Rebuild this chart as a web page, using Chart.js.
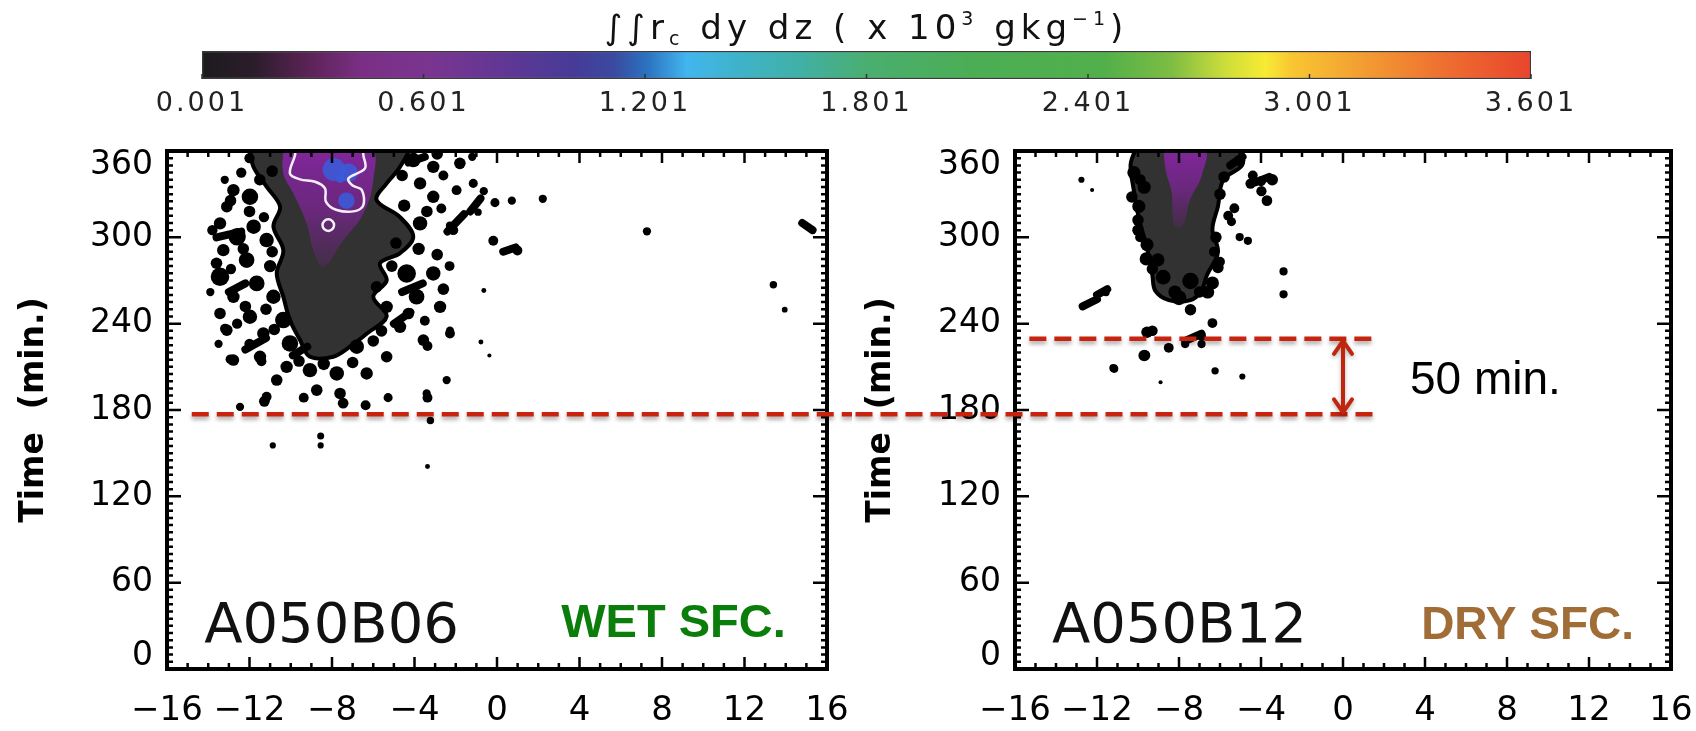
<!DOCTYPE html>
<html lang="en">
<head>
<meta charset="UTF-8">
<title>Cloud water time–distance plots, wet vs dry surface</title>
<script src="https://cdn.jsdelivr.net/npm/chart.js"></script>
<style>
  html, body { margin: 0; padding: 0; background: #fff; }
  body { width: 1696px; height: 731px; position: relative; overflow: hidden; }
  .box { position: absolute; }
  #barBox { left: 140px; top: 0; width: 1440px; height: 128px; }
  #wetBox { left: 0; top: 130px; width: 852px; height: 601px; }
  #dryBox { left: 852px; top: 130px; width: 844px; height: 601px; }
</style>
</head>
<body>
<div class="box" id="barBox"><canvas id="colorBar"></canvas></div>
<div class="box" id="wetBox"><canvas id="wetChart"></canvas></div>
<div class="box" id="dryBox"><canvas id="dryChart"></canvas></div>

<script>
// axes
const xTicks = [-16, -12, -8, -4, 0, 4, 8, 12, 16];
const timeTicks = [0, 60, 120, 180, 240, 300, 360];
const barTicks = [0.001, 0.601, 1.201, 1.801, 2.401, 3.001, 3.601];

// outlines are [x (km), time (min)]; blobs are [x, time, radius km]; streaks are [x1, t1, x2, t2]
const wetPlume = [[-11.98, 362], [-4.38, 362], [-4.7, 349], [-5.35, 337.5], [-5.84, 326], [-4.7, 314], [-4.06, 300.4],
  [-4.7, 289], [-5.67, 282], [-5.35, 270], [-6.0, 258.7], [-5.35, 245], [-6.32, 233], [-7.13, 224], [-7.94, 217],
  [-9.07, 217], [-9.55, 228.6], [-10.04, 242.5], [-10.36, 258.7], [-10.68, 275], [-10.36, 291], [-10.84, 307.4],
  [-10.52, 321.3], [-11.17, 335.2], [-11.81, 349], [-11.98, 362]];
const wetPurple = [[-10.36, 362], [-6.16, 362], [-6.0, 339.8], [-6.48, 316.6], [-7.45, 298], [-8.42, 279.6],
  [-8.9, 291], [-9.23, 309.7], [-9.87, 330.5], [-10.36, 344.4], [-10.36, 362]];
const wetContour = [[-9.79, 361], [-9.79, 357.2], [-10.04, 344.4], [-9.55, 340.3], [-8.82, 338.6], [-8.34, 334],
  [-8.29, 324.7], [-7.77, 319], [-6.89, 318.2], [-6.48, 322.4], [-6.56, 333], [-7.0, 336], [-7.2, 341],
  [-6.4, 347.9], [-6.48, 357.2], [-6.48, 361]];
const wetRings = [[-8.18, 308.5, 0.28]];
const wetBlue = [[-7.9, 347, 0.55], [-7.2, 345, 0.45], [-7.3, 325.5, 0.4], [-7.6, 341, 0.22]];
const wetBlobs = [
  [-12.78, 332.8, 0.3], [-11.98, 328.2, 0.4], [-13.1, 321.3, 0.28], [-12.92, 325.5, 0.28], [-13.43, 309.7, 0.3],
  [-11.8, 307.4, 0.35], [-12.6, 300.4, 0.42], [-11.17, 298.1, 0.35], [-13.27, 291.1, 0.3], [-12.14, 284.2, 0.38],
  [-13.43, 272.6, 0.45], [-11.65, 268, 0.38], [-12.78, 258.7, 0.3], [-10.84, 258.7, 0.35], [-13.43, 247.1, 0.28],
  [-11.98, 244.8, 0.35], [-10.36, 242.5, 0.4], [-13.1, 235.5, 0.28], [-11.33, 233.2, 0.3], [-12.78, 214.7, 0.28],
  [-11.49, 217, 0.3], [-10.04, 226.3, 0.4], [-10.2, 210, 0.3], [-9.07, 207.7, 0.35], [-7.77, 205.4, 0.35],
  [-8.74, 193.8, 0.28], [-7.61, 191.5, 0.28], [-6.32, 205.4, 0.3], [-5.35, 217, 0.28], [-6.8, 224, 0.35],
  [-10.68, 200.8, 0.28], [-11.17, 189.2, 0.24], [-12.46, 182.2, 0.2], [-13.19, 236.5, 0.24], [-12.92, 215.2, 0.24],
  [-11.42, 213.9, 0.24], [-11.28, 186, 0.26], [-9.37, 188.6, 0.24], [-7.46, 184.7, 0.26], [-6.37, 183.3, 0.24],
  [-5.28, 188.6, 0.22], [-3.37, 188.6, 0.24], [-3.23, 172.7, 0.18], [-3.37, 140.8, 0.12], [-8.55, 162, 0.17],
  [-8.55, 155.4, 0.15], [-10.87, 155.4, 0.15],
  [-13.8, 305, 0.25], [-12.0, 318, 0.28], [-11.3, 314, 0.25], [-13.6, 282, 0.28], [-12.9, 278, 0.25],
  [-11.0, 280, 0.3], [-12.3, 292, 0.28], [-10.9, 290, 0.28], [-13.9, 262, 0.2], [-12.2, 252, 0.28],
  [-11.2, 250, 0.28], [-12.6, 240, 0.25], [-10.8, 236, 0.28], [-12.0, 226, 0.25], [-13.5, 226, 0.2],
  [-9.6, 214, 0.28], [-8.4, 212, 0.3], [-7.0, 213, 0.28], [-6.0, 228, 0.28], [-5.6, 235, 0.28],
  [-10.9, 346, 0.28], [-11.5, 340, 0.28], [-12.4, 345, 0.25], [-13.2, 340, 0.2], [-12.0, 355, 0.25],
  [-4.06, 353.7, 0.35], [-3.09, 349, 0.3], [-1.8, 351.4, 0.28], [-1.96, 332.8, 0.24], [-1.15, 337.5, 0.22],
  [-3.73, 337.5, 0.3], [-3.09, 328.2, 0.3], [-2.12, 305, 0.24], [-3.73, 309.7, 0.35], [-4.38, 274.9, 0.45],
  [-3.09, 274.9, 0.35], [-3.9, 258.7, 0.38], [-2.76, 251.7, 0.3], [-5.35, 251.7, 0.3], [-4.7, 237.8, 0.3],
  [-5.84, 265.6, 0.28], [-2.28, 233.2, 0.24], [-3.57, 228.6, 0.28], [-3.41, 191.5, 0.2], [-2.44, 200.8, 0.2],
  [-4.6, 343, 0.28], [-2.6, 343, 0.24], [-4.5, 322, 0.3], [-3.4, 318, 0.28], [-2.7, 320, 0.24],
  [-4.9, 296, 0.28], [-3.8, 292, 0.3], [-2.9, 288, 0.28], [-2.6, 264, 0.28], [-4.3, 247, 0.28],
  [-3.5, 242, 0.24], [-2.3, 280, 0.24], [-5.1, 280, 0.28], [-2.9, 358, 0.28], [-1.2, 356, 0.2],
  [-0.64, 332.1, 0.2], [-0.1, 324.1, 0.22], [0.72, 325.5, 0.2], [2.22, 326.8, 0.2], [-0.92, 317.5, 0.18],
  [-2.28, 308.2, 0.2], [-0.18, 297.6, 0.24], [0.99, 290.9, 0.24], [7.27, 304.2, 0.2], [13.4, 267, 0.18],
  [13.95, 249.7, 0.14], [-0.64, 263, 0.12], [-0.78, 227.2, 0.12], [-0.37, 217.9, 0.1], [-2.28, 235.1, 0.2],
  [-3.37, 224.5, 0.24]];
const wetStreaks = [[-2.4, 304, -1.6, 316], [-1.3, 318, -0.8, 327], [0.3, 290, 0.9, 293], [14.8, 310, 15.3, 305],
  [-4.3, 352, -3.5, 356], [-13.6, 300, -12.4, 304], [-13.0, 262, -12.2, 268], [-12.2, 222, -11.2, 230],
  [-9.9, 218, -9.2, 224], [-5.0, 240, -4.2, 248], [-4.6, 262, -3.6, 268]];

const dryPlume = [[-10.1, 362], [-5.3, 362], [-4.9, 350.7], [-5.84, 340], [-6.1, 321.5], [-6.37, 305.5], [-6.1, 289.6],
  [-6.64, 273.7], [-6.9, 263], [-7.44, 256.4], [-8.5, 256.4], [-9.16, 263], [-9.3, 273.7], [-9.56, 292.3],
  [-9.96, 313.5], [-10.23, 334.8], [-10.36, 350.7], [-10.1, 362]];
const dryPurple = [[-8.77, 362], [-6.77, 362], [-6.9, 342.7], [-7.44, 326.8], [-7.84, 308.2], [-8.23, 308.2],
  [-8.37, 332.1], [-8.63, 345.4], [-8.77, 362]];
const dryBlobs = [
  [-9.7, 334.8, 0.32], [-9.96, 321.5, 0.32], [-9.56, 294.9, 0.32], [-9.03, 284.3, 0.32], [-8.77, 272.3, 0.36],
  [-7.44, 269.7, 0.4], [-6.37, 268.3, 0.32], [-5.04, 353.4, 0.28], [-4.51, 337.4, 0.25], [-3.45, 340, 0.28],
  [-3.98, 332.1, 0.25], [-3.71, 325.5, 0.26], [-5.3, 320.2, 0.24], [-5.44, 310.9, 0.22], [-5.04, 300.2, 0.2],
  [-4.64, 297.6, 0.2], [-6.1, 279, 0.28], [-2.9, 276.3, 0.2], [-2.9, 260.4, 0.2], [-7.44, 249.7, 0.28],
  [-6.37, 240.4, 0.24], [-6.9, 231.1, 0.22], [-9.3, 235.1, 0.26], [-8.5, 223.2, 0.24], [-9.7, 217.9, 0.28],
  [-11.16, 208.6, 0.2], [-8.9, 199.3, 0.1], [-6.24, 207.2, 0.18], [-4.91, 203.3, 0.15], [-7.7, 225.8, 0.2],
  [-6.9, 225.8, 0.2], [-12.76, 340, 0.15], [-12.24, 332.9, 0.1], [-11.56, 261.7, 0.18], [-9.56, 234, 0.28],
  [-9.66, 218, 0.26], [-11.2, 209.2, 0.2],
  [-10.2, 345, 0.32], [-10.3, 328, 0.28], [-10.0, 305, 0.28], [-9.6, 285, 0.32], [-6.0, 330, 0.28],
  [-6.2, 300, 0.28], [-6.6, 262, 0.32], [-8.0, 258, 0.36],
  [-9.9, 340, 0.28], [-10.0, 312, 0.28], [-9.9, 300, 0.24], [-9.3, 278, 0.28], [-8.2, 262, 0.32],
  [-7.0, 262, 0.28], [-6.3, 290, 0.24], [-5.8, 342, 0.28], [-5.6, 315, 0.24], [-6.0, 283, 0.24],
  [-4.4, 343, 0.24], [-4.0, 339, 0.24]];
const dryStreaks = [[-12.7, 252, -12.0, 257], [-12.0, 260, -11.5, 264], [-4.3, 338, -3.6, 342],
  [-5.5, 350, -4.9, 356], [-7.7, 228, -6.9, 233]];

// rain onset lines (min) and the delay between them
const wetOnset = 177;
const dryOnset = 229.5;
const delayLabel = '50 min.';

const SANS = "'DejaVu Sans', sans-serif";
const ARIAL = "'Liberation Sans', Arial, sans-serif";
const RED = '#c8230f';

const gradStops = [[0, '#1c1b1d'], [0.04, '#2c1d2c'], [0.08, '#5b2356'], [0.12, '#7a2f84'], [0.17, '#7a3590'],
  [0.23, '#603795'], [0.28, '#463b97'], [0.31, '#3a4aa0'], [0.335, '#2c72c0'], [0.365, '#42b6ee'],
  [0.40, '#3fb3cc'], [0.45, '#41b0a6'], [0.50, '#4aae70'], [0.58, '#4bae55'], [0.68, '#52b04a'],
  [0.73, '#7ebd43'], [0.77, '#cddd3a'], [0.80, '#f7eb33'], [0.82, '#f9c632'], [0.88, '#f29832'],
  [0.94, '#ee6b30'], [1, '#e8452d']];

const pts = arr => arr.map(([x, y]) => ({x, y}));
const blobPts = arr => arr.map(([x, y, w]) => ({x, y, w}));
const streakPts = arr => arr.flatMap(([x1, y1, x2, y2]) => [{x: x1, y: y1}, {x: x2, y: y2}, {x: x2, y: null}]);
const kmToPx = (chart, w) => Math.abs(chart.scales.x.getPixelForValue(w) - chart.scales.x.getPixelForValue(0));
const blobRadius = c => {
  if (!c.raw || !c.raw.w) return 0;
  const r = kmToPx(c.chart, c.raw.w);
  return Number.isFinite(r) ? r : 0;
};
const minus = v => String(v).replace('-', '\u2212');

// purple core: strong near the top, fading towards its lowest point
const purpleFill = outline => c => {
  const ys = c.chart.scales.y;
  const top = ys ? ys.getPixelForValue(ys.max) : NaN;
  const low = ys ? ys.getPixelForValue(Math.min(...outline.map(d => d[1]))) : NaN;
  if (!Number.isFinite(top) || !Number.isFinite(low) || top === low) return 'rgba(126,36,150,0.8)';
  const g = c.chart.ctx.createLinearGradient(0, top, 0, low);
  g.addColorStop(0, 'rgba(132,38,160,0.95)');
  g.addColorStop(0.5, 'rgba(126,36,150,0.75)');
  g.addColorStop(1, 'rgba(120,34,140,0.25)');
  return g;
};

// frame with inward ticks on all four sides plus the time labels,
// drawn just before the overlay datasets
const boxFrame = {
  id: 'boxFrame',
  beforeDatasetsDraw(chart) { chart.$framed = false; },
  beforeDatasetDraw(chart, args) {
    if (!chart.data.datasets[args.index].overlay || chart.$framed) return;
    chart.$framed = true;
    const {ctx, chartArea: a, scales: {x, y}} = chart;
    ctx.save();
    ctx.strokeStyle = '#000';
    ctx.lineWidth = 2.5;
    ctx.beginPath();
    for (let v = x.min; v <= x.max; v += 1) {
      const px = x.getPixelForValue(v);
      const len = xTicks.includes(v) ? 12 : 6;
      ctx.moveTo(px, a.bottom); ctx.lineTo(px, a.bottom - len);
      ctx.moveTo(px, a.top); ctx.lineTo(px, a.top + len);
    }
    for (let v = y.min; v <= y.max; v += 5) {
      const py = y.getPixelForValue(v);
      const len = timeTicks.includes(v) ? 14 : 6;
      ctx.moveTo(a.left, py); ctx.lineTo(a.left + len, py);
      ctx.moveTo(a.right, py); ctx.lineTo(a.right - len, py);
    }
    ctx.stroke();
    ctx.lineWidth = 4;
    ctx.strokeRect(a.left, a.top, a.right - a.left, a.bottom - a.top);

    // time labels; the end ones are pulled inside the axis range
    ctx.font = 'normal 33px ' + SANS;
    ctx.fillStyle = '#000';
    ctx.textAlign = 'right';
    ctx.textBaseline = 'middle';
    timeTicks.forEach(v => {
      let py = y.getPixelForValue(v);
      if (v === y.max) py += 14;
      if (v === y.min) py -= 13;
      ctx.fillText(String(v), a.left - 14, py);
    });
    ctx.restore();
  }
};

// soft drop shadow under the dashed onset lines
const dropShadow = {
  id: 'dropShadow',
  beforeDatasetDraw(chart, args) {
    if (!chart.data.datasets[args.index].shadow) return;
    const ctx = chart.ctx;
    ctx.save();
    ctx.shadowColor = 'rgba(0,0,0,0.35)';
    ctx.shadowBlur = 4;
    ctx.shadowOffsetY = 3;
  },
  afterDatasetDraw(chart, args) {
    if (chart.data.datasets[args.index].shadow) chart.ctx.restore();
  }
};

// text placed in data coordinates
const panelText = {
  id: 'panelText',
  afterDraw(chart, args, opts) {
    const {ctx, scales: {x, y}} = chart;
    (opts.items || []).forEach(it => {
      ctx.save();
      ctx.font = it.font;
      ctx.fillStyle = it.color;
      ctx.textAlign = it.align || 'left';
      ctx.textBaseline = 'alphabetic';
      ctx.fillText(it.text, x.getPixelForValue(it.x), y.getPixelForValue(it.t));
      ctx.restore();
    });
  }
};

// double-headed arrow between two times
const gapArrow = {
  id: 'gapArrow',
  afterDraw(chart, args, opts) {
    if (opts.x === undefined) return;
    const {ctx, scales: {x, y}} = chart;
    const px = x.getPixelForValue(opts.x);
    const top = y.getPixelForValue(opts.from);
    const bot = y.getPixelForValue(opts.to);
    ctx.save();
    ctx.strokeStyle = '#c0260e';
    ctx.lineWidth = 4;
    ctx.lineCap = 'round';
    ctx.lineJoin = 'round';
    ctx.shadowColor = 'rgba(0,0,0,0.3)';
    ctx.shadowBlur = 4;
    ctx.shadowOffsetY = 2;
    ctx.beginPath();
    ctx.moveTo(px, top + 2); ctx.lineTo(px, bot - 2);
    ctx.moveTo(px - 9, top + 15); ctx.lineTo(px, top + 2); ctx.lineTo(px + 9, top + 15);
    ctx.moveTo(px - 9, bot - 15); ctx.lineTo(px, bot - 2); ctx.lineTo(px + 9, bot - 15);
    ctx.stroke();
    ctx.restore();
  }
};

function panelDatasets(p) {
  const sets = [
    {type: 'line', data: pts(p.plume), showLine: true, borderColor: '#000', borderWidth: 4,
     backgroundColor: '#323232', fill: 'shape', tension: 0.35, pointRadius: 0, clip: 0, order: 9},
    {type: 'scatter', data: blobPts(p.blobs), pointRadius: blobRadius, pointBackgroundColor: '#000',
     pointBorderWidth: 0, clip: 0, order: 8},
    {type: 'line', data: streakPts(p.streaks), showLine: true, spanGaps: false, borderColor: '#000',
     borderWidth: 8, borderCapStyle: 'round', pointRadius: 0, fill: false, clip: 0, order: 7},
    {type: 'line', data: pts(p.purple), showLine: true, borderWidth: 0, borderColor: 'rgba(0,0,0,0)',
     backgroundColor: purpleFill(p.purple), fill: 'shape', tension: 0.4, pointRadius: 0, clip: 0, order: 6}
  ];
  if (p.blue) sets.push({type: 'scatter', data: blobPts(p.blue), pointRadius: blobRadius,
    pointBackgroundColor: 'rgba(60,90,215,0.9)', pointBorderWidth: 0, clip: 0, order: 5});
  if (p.contour) sets.push({type: 'line', data: pts(p.contour), showLine: true, borderColor: '#f4eef8',
    borderWidth: 2.5, tension: 0.35, pointRadius: 0, fill: false, clip: 0, order: 4});
  if (p.rings) sets.push({type: 'scatter', data: blobPts(p.rings), pointRadius: blobRadius,
    pointBackgroundColor: 'rgba(0,0,0,0)', pointBorderColor: '#f4eef8', pointBorderWidth: 2.5, clip: 0, order: 4});
  p.onsets.forEach((line, i) => sets.push({type: 'line', data: pts(line), showLine: true, borderColor: RED,
    borderWidth: 4.5, borderDash: [17, 8], pointRadius: 0, fill: false, clip: false, overlay: true, shadow: true,
    order: 1 - i * 0.1}));
  return sets;
}

function panelChart(id, p) {
  return new Chart(document.getElementById(id), {
    type: 'scatter',
    data: {datasets: panelDatasets(p)},
    options: {
      animation: false, responsive: true, maintainAspectRatio: false, events: [],
      layout: {padding: {left: 0, right: 25, top: 21, bottom: 0}},
      plugins: {
        legend: {display: false}, tooltip: {enabled: false},
        panelText: {items: p.texts}, gapArrow: p.arrow || {}
      },
      scales: {
        x: {
          type: 'linear', min: xTicks[0], max: xTicks[xTicks.length - 1],
          afterBuildTicks: s => { s.ticks = xTicks.map(v => ({value: v})); },
          afterFit: s => { s.height = 62; },
          ticks: {callback: minus, font: {family: SANS, size: 34, lineHeight: 2.47}, color: '#000', padding: 0,
                  maxRotation: 0, autoSkip: false},
          grid: {display: false, drawTicks: false}, border: {display: false}
        },
        y: {
          type: 'linear', min: timeTicks[0], max: timeTicks[timeTicks.length - 1],
          afterBuildTicks: s => { s.ticks = timeTicks.map(v => ({value: v})); },
          afterFit: s => { s.width = p.axisWidth; },
          ticks: {display: false},
          title: {display: true, text: 'Time  (min.)', font: {family: SANS, size: 33, weight: 'bold'}, color: '#000',
                  padding: {top: p.titlePad, bottom: 0}},
          grid: {display: false, drawTicks: false}, border: {display: false}
        }
      }
    },
    plugins: [boxFrame, dropShadow, panelText, gapArrow]
  });
}

// colour bar
const barTitle = {
  id: 'barTitle',
  beforeDraw(chart) { chart.ctx.letterSpacing = '3px'; },
  afterDraw(chart) {
    const {ctx, chartArea: a} = chart;
    const big = 'normal 34px ' + SANS, small = 'normal 19px ' + SANS;
    const parts = [['\u222B\u222Br', big, 0], ['c', small, 6], [' dy dz ( x 10', big, 0], ['3', small, -14],
      [' gkg', big, 0], ['\u22121', small, -14], [')', big, 0]];
    ctx.save();
    ctx.letterSpacing = '5px';
    let w = 0;
    parts.forEach(([t, f]) => { ctx.font = f; w += ctx.measureText(t).width; });
    let px = (a.left + a.right) / 2 - w / 2;
    const base = a.top - 12;
    ctx.fillStyle = '#111';
    ctx.textBaseline = 'alphabetic';
    parts.forEach(([t, f, dy]) => {
      ctx.font = f;
      ctx.fillText(t, px, base + dy);
      px += ctx.measureText(t).width;
    });
    // small tick marks under the labels
    const xs = chart.scales.x;
    ctx.strokeStyle = '#333';
    ctx.lineWidth = 1.5;
    ctx.beginPath();
    barTicks.forEach(v => {
      const tx = xs.getPixelForValue(v);
      ctx.moveTo(tx, a.bottom); ctx.lineTo(tx, a.bottom - 5);
    });
    ctx.stroke();
    ctx.restore();
  }
};

const barFill = c => {
  const xs = c.chart.scales.x;
  const x0 = xs ? xs.getPixelForValue(xs.min) : NaN;
  const x1 = xs ? xs.getPixelForValue(xs.max) : NaN;
  if (!Number.isFinite(x0) || !Number.isFinite(x1) || x0 === x1) return '#4aae55';
  const g = c.chart.ctx.createLinearGradient(x0, 0, x1, 0);
  gradStops.forEach(([o, col]) => g.addColorStop(o, col));
  return g;
};

new Chart(document.getElementById('colorBar'), {
  type: 'bar',
  data: {
    labels: [''],
    datasets: [{
      data: [[barTicks[0], barTicks[barTicks.length - 1]]],
      backgroundColor: barFill,
      borderColor: '#3a3a3a', borderWidth: 1.5, borderSkipped: false,
      barPercentage: 1, categoryPercentage: 1
    }]
  },
  options: {
    indexAxis: 'y', animation: false, responsive: true, maintainAspectRatio: false, events: [],
    layout: {padding: {left: 62, right: 49, top: 51, bottom: 0}},
    plugins: {legend: {display: false}, tooltip: {enabled: false}},
    scales: {
      y: {display: false},
      x: {
        type: 'linear', min: barTicks[0], max: barTicks[barTicks.length - 1],
        afterBuildTicks: s => { s.ticks = barTicks.map(v => ({value: v})); },
        afterFit: s => { s.height = 49; },
        ticks: {callback: v => v.toFixed(3), font: {family: SANS, size: 27}, color: '#222', padding: 9,
                maxRotation: 0, autoSkip: false},
        grid: {display: false, drawTicks: false}, border: {display: false}
      }
    }
  },
  plugins: [barTitle]
});

panelChart('wetChart', {
  plume: wetPlume, purple: wetPurple, blobs: wetBlobs, streaks: wetStreaks, blue: wetBlue,
  contour: wetContour, rings: wetRings, axisWidth: 167, titlePad: 15,
  onsets: [[[-14.8, wetOnset], [21, wetOnset]]],
  texts: [
    {text: 'A050B06', x: -14.2, t: 19, font: 'normal 56px ' + SANS, color: '#111'},
    {text: 'WET SFC.', x: 14.0, t: 22, align: 'right', font: 'bold 47px ' + ARIAL, color: '#0b7d0b'}
  ]
});

panelChart('dryChart', {
  plume: dryPlume, purple: dryPurple, blobs: dryBlobs, streaks: dryStreaks,
  axisWidth: 163, titlePad: 10,
  onsets: [[[-15.3, dryOnset], [1.7, dryOnset]], [[-25, wetOnset], [1.7, wetOnset]]],
  arrow: {x: 0, from: dryOnset, to: wetOnset},
  texts: [
    {text: 'A050B12', x: -14.2, t: 19, font: 'normal 56px ' + SANS, color: '#111'},
    {text: 'DRY SFC.', x: 14.2, t: 21, align: 'right', font: 'bold 46px ' + ARIAL, color: '#a06d37'},
    {text: delayLabel, x: 3.27, t: 191, font: 'normal 46px ' + ARIAL, color: '#000'}
  ]
});
</script>
</body>
</html>
